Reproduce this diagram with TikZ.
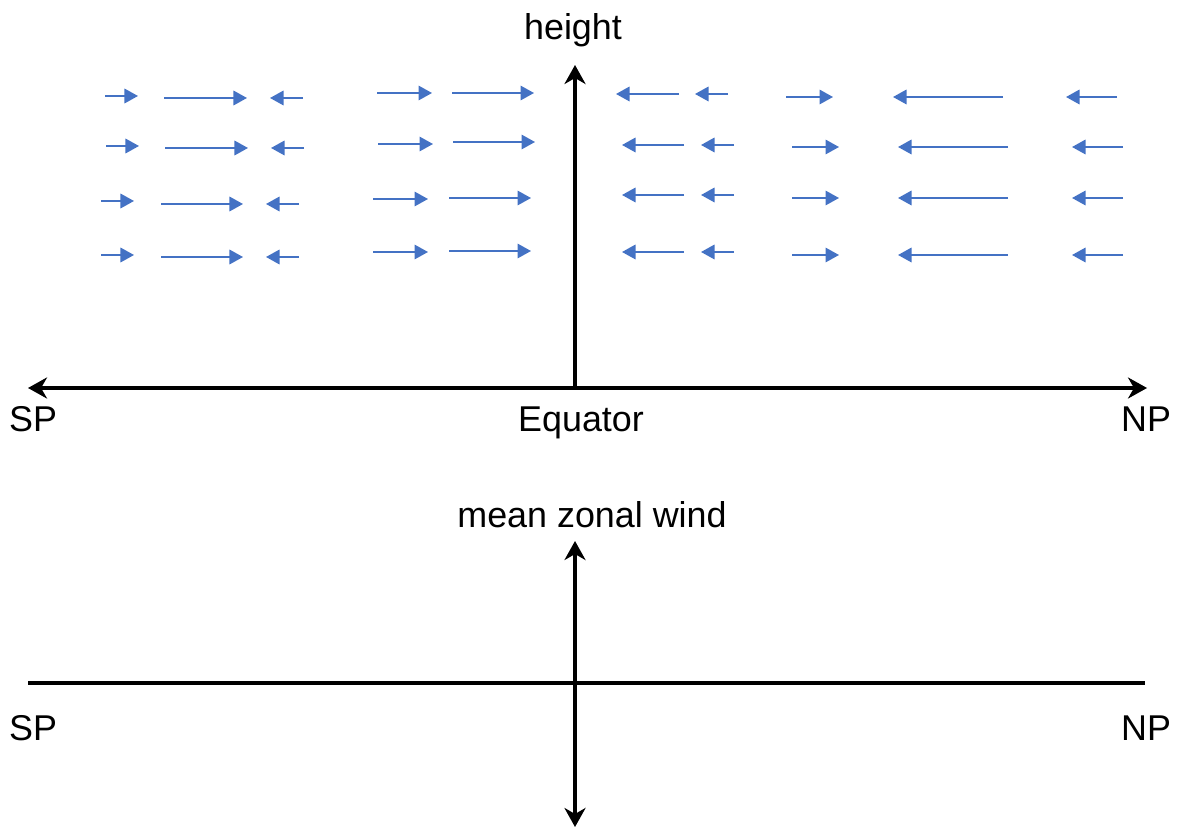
\documentclass[tikz,border=0pt]{standalone}
\usepackage{fontspec}
\setmainfont{Liberation Sans}
\usetikzlibrary{arrows.meta}
\definecolor{windblue}{HTML}{4472C4}
\tikzset{
  axis/.style={line width=1.35pt,black},
  axar/.style={axis,-{Stealth[length=1.9mm,width=2.1mm,inset=.6mm]}},
  dax/.style={axis,{Stealth[length=1.9mm,width=2.1mm,inset=.6mm]}-{Stealth[length=1.9mm,width=2.1mm,inset=.6mm]}},
  wind/.style={-{Triangle[length=1.35mm,width=1.45mm]},line width=.5pt,windblue},
  lbl/.style={font=\fontsize{10.2}{12}\selectfont,anchor=base,inner sep=0pt},
}
\begin{document}
\begin{tikzpicture}[x=0.01cm,y=-0.01cm]
  \useasboundingbox (0,0) rectangle (1177,828);
  % upper panel: circulation in height/latitude
  \coordinate (spT) at (28,388);
  \coordinate (npT) at (1147,388);
  \coordinate (eqT) at (575,388);
  \coordinate (topT) at (575,65);
  \draw[dax] (spT) -- (npT);
  \draw[axar] (eqT) -- (topT);
  \node[lbl] (height) at (573,40) {height};
  \node[lbl] (spTl) at (33,431) {SP};
  \node[lbl] (eqTl) at (581,431) {Equator};
  \node[lbl] (npTl) at (1146,431) {NP};
  % wind arrows, row by row (tail/tip/y)
  \foreach \xa/\xb/\y in {105/138/96,164/247/98,303/270/98,377/432/93,452/534/93,
                          679/616/94,728/695/94,786/833/97,1003/893/97,1117/1066/97}
    \draw[wind] (\xa,\y) -- (\xb,\y);
  \foreach \xa/\xb/\y in {106/139/146,165/248/148,304/271/148,378/433/144,453/535/142,
                          684/622/145,734/701/145,792/839/147,1008/898/147,1123/1072/147}
    \draw[wind] (\xa,\y) -- (\xb,\y);
  \foreach \xa/\xb/\y in {101/134/201,161/243/204,299/266/204,373/428/199,449/531/198,
                          684/622/195,734/701/195,792/839/198,1008/898/198,1123/1072/198}
    \draw[wind] (\xa,\y) -- (\xb,\y);
  \foreach \xa/\xb/\y in {101/134/255,161/243/257,299/266/257,373/428/252,449/531/251,
                          684/622/252,734/701/252,792/839/255,1008/898/255,1123/1072/255}
    \draw[wind] (\xa,\y) -- (\xb,\y);
  % lower panel: mean zonal wind
  \coordinate (spB) at (28,683);
  \coordinate (npB) at (1145,683);
  \coordinate (topB) at (575,541);
  \coordinate (botB) at (575,827);
  \draw[axis] (spB) -- (npB);
  \draw[dax] (botB) -- (topB);
  \node[lbl] (mzw) at (592,527) {mean zonal wind};
  \node[lbl] (spBl) at (33,740) {SP};
  \node[lbl] (npBl) at (1146,740) {NP};
\end{tikzpicture}
\end{document}
